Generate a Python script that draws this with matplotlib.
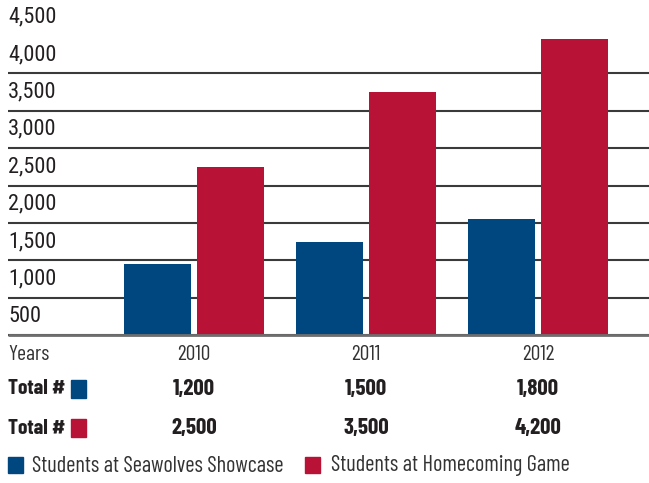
import matplotlib
matplotlib.use("Agg")
import matplotlib.pyplot as plt
from matplotlib.patches import Rectangle
from matplotlib.transforms import blended_transform_factory

plt.rcParams['font.family'] = ['Barlow Condensed', 'Roboto Condensed', 'DejaVu Sans']
AXIS_FONT = ['Roboto Condensed', 'DejaVu Sans']

years = ["2010", "2011", "2012"]
showcase = [1200, 1500, 1800]
homecoming = [2500, 3500, 4200]
series_names = ["Students at Seawolves Showcase", "Students at Homecoming Game"]
tick_values = [500, 1000, 1500, 2000, 2500, 3000, 3500, 4000, 4500]

BLUE = "#00467f"
RED = "#b81237"
TEXT = "#231f20"

W, H = 649, 483
fig = plt.figure(figsize=(W / 100, H / 100), dpi=100)


def fx(px):
    return px / W


def fy(py):
    return 1 - py / H


ax = fig.add_axes([fx(8), fy(335.3), fx(641), 337.0 / H])
ax.set_xlim(-1.0814, 2.645)
ax.set_ylim(250, 4750)
for s in ax.spines.values():
    s.set_visible(False)
ax.set_xticks([])
ax.set_yticks([])

# horizontal rules sit halfway between the value labels and bleed off the right edge
rule_tr = blended_transform_factory(fig.transFigure, ax.transData)
for v in tick_values[:-1]:
    ax.plot([fx(8), 1.08], [v - 250, v - 250], transform=rule_tr, clip_on=False,
            color="#3a3a3a", lw=1.5, zorder=1, solid_capstyle="butt")
ax.plot([fx(8), 1.08], [250, 250], transform=rule_tr, clip_on=False,
        color="#6e6e6e", lw=2.0, zorder=3, solid_capstyle="butt")

# value labels, left-aligned at the axis edge
for v in tick_values:
    ax.text(0.0, v, f"{v:,}", transform=blended_transform_factory(ax.transAxes, ax.transData),
            ha="left", va="center", fontsize=16, color=TEXT, family=AXIS_FONT)

xs = list(range(len(years)))
bw = 0.3895
off = 0.2122
ax.bar([x - off for x in xs], showcase, width=bw, bottom=0, color=BLUE, zorder=2)
ax.bar([x + off for x in xs], homecoming, width=bw, bottom=0, color=RED, zorder=2)

# table of years and totals under the plot
tr = blended_transform_factory(ax.transData, fig.transFigure)
fig.text(fx(8), fy(354), "Years", ha="left", va="center", fontsize=15.5, color="#333333")
fig.text(fx(8), fy(389), "Total #", ha="left", va="center", fontsize=15.5,
         fontweight="bold", color=TEXT)
fig.text(fx(8), fy(428), "Total #", ha="left", va="center", fontsize=15.5,
         fontweight="bold", color=TEXT)
fig.patches.append(Rectangle((fx(71), fy(398)), fx(15), 18 / H, transform=fig.transFigure,
                             color=BLUE))
fig.patches.append(Rectangle((fx(71), fy(437)), fx(15), 18 / H, transform=fig.transFigure,
                             color=RED))
for x, yr, a, b in zip(xs, years, showcase, homecoming):
    ax.text(x, fy(354), yr, transform=tr, ha="center", va="center", fontsize=15.5, color="#333333")
    ax.text(x, fy(389), f"{a:,}", transform=tr, ha="center", va="center", fontsize=16.5,
            fontweight="bold", color=TEXT)
    ax.text(x, fy(428), f"{b:,}", transform=tr, ha="center", va="center", fontsize=16.5,
            fontweight="bold", color=TEXT)

# legend
for sx, tx, col, name in [(8, 32, BLUE, series_names[0]), (305, 331, RED, series_names[1])]:
    fig.patches.append(Rectangle((fx(sx), fy(473)), fx(15), 16 / H, transform=fig.transFigure,
                                 color=col))
    fig.text(fx(tx), fy(466), name, ha="left", va="center", fontsize=16.1, color="#333333")

fig.savefig("out.png", dpi=100)
